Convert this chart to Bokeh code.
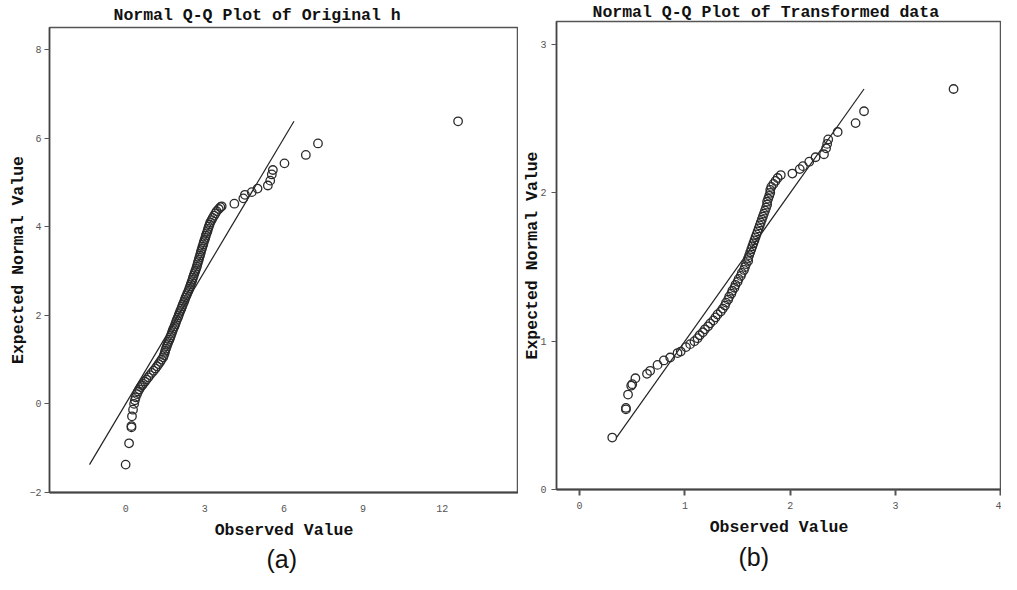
from bokeh.plotting import figure
from bokeh.models import Range1d, FixedTicker, Title
from bokeh.layouts import row, column
from bokeh.embed import file_html
from bokeh.resources import INLINE

# ---------------- data ----------------
a_title = "Normal Q-Q Plot of Original h"
b_title = "Normal Q-Q Plot of Transformed data"
x_label = "Observed Value"
y_label = "Expected Normal Value"
a_caption = "(a)"
b_caption = "(b)"

a_observed = [0.00, 0.13, 0.22, 0.22, 0.24, 0.28, 0.32, 0.35, 0.38, 0.43,
              0.47, 0.52, 0.57, 0.62,
              0.66, 0.73, 0.79, 0.86, 0.92, 0.99, 1.06, 1.13, 1.19, 1.25,
              1.31, 1.36, 1.42, 1.45, 1.48, 1.50, 1.53, 1.56, 1.59, 1.62,
              1.66, 1.69, 1.72, 1.75, 1.78, 1.81, 1.85, 1.88, 1.91, 1.94,
              1.98, 2.01, 2.04, 2.07, 2.11, 2.14, 2.17, 2.21, 2.24, 2.27,
              2.31, 2.34, 2.38, 2.41, 2.44, 2.47, 2.50, 2.53, 2.55, 2.58,
              2.61, 2.64, 2.67, 2.70, 2.72, 2.74, 2.77, 2.79, 2.82, 2.84,
              2.86, 2.89, 2.91, 2.94, 2.96, 2.99, 3.02, 3.04, 3.07, 3.10,
              3.12, 3.15, 3.18, 3.21, 3.26, 3.30, 3.35, 3.40, 3.45, 3.53,
              3.59, 3.64,
              4.12, 4.46, 4.52, 4.78, 5.00, 5.39, 5.48, 5.54, 5.58, 6.02,
              6.83, 7.29, 12.60]
a_expected = [-1.37, -0.89, -0.53, -0.50, -0.28, -0.13, 0.00, 0.08, 0.15, 0.22,
              0.28, 0.33, 0.38, 0.42,
              0.45, 0.50, 0.55, 0.60, 0.65, 0.70, 0.75, 0.80, 0.85, 0.90,
              0.95, 1.00, 1.05, 1.10, 1.15, 1.20, 1.25, 1.30, 1.35, 1.40,
              1.45, 1.50, 1.55, 1.60, 1.65, 1.70, 1.75, 1.80, 1.85, 1.90,
              1.95, 2.00, 2.05, 2.10, 2.15, 2.20, 2.25, 2.30, 2.35, 2.40,
              2.45, 2.50, 2.55, 2.60, 2.65, 2.70, 2.75, 2.80, 2.85, 2.90,
              2.95, 3.00, 3.05, 3.10, 3.15, 3.20, 3.25, 3.30, 3.35, 3.40,
              3.45, 3.50, 3.55, 3.60, 3.65, 3.70, 3.75, 3.80, 3.85, 3.90,
              3.95, 4.00, 4.05, 4.10, 4.15, 4.20, 4.25, 4.30, 4.35, 4.40,
              4.44, 4.46,
              4.52, 4.64, 4.72, 4.78, 4.86, 4.93, 5.04, 5.18, 5.28, 5.43,
              5.62, 5.88, 6.38]
a_ref_line = [-1.37, 6.38]

b_observed = [0.31, 0.44, 0.44, 0.46, 0.49, 0.50, 0.53, 0.64, 0.67, 0.74,
              0.80, 0.86, 0.93, 0.96, 1.01,
              1.05, 1.09, 1.12, 1.14, 1.17, 1.19, 1.22, 1.24, 1.27, 1.29,
              1.31, 1.34, 1.36, 1.38, 1.39, 1.41, 1.42, 1.44, 1.45, 1.47,
              1.48, 1.50, 1.51, 1.53, 1.54, 1.56, 1.57, 1.58, 1.60, 1.60,
              1.61, 1.62, 1.63, 1.64, 1.65, 1.66, 1.67, 1.68, 1.69, 1.70,
              1.71, 1.72, 1.73, 1.74, 1.75, 1.76, 1.77, 1.78, 1.78, 1.79,
              1.80, 1.81, 1.81, 1.82, 1.84, 1.86, 1.88, 1.91,
              2.02, 2.09, 2.12, 2.18, 2.24, 2.32, 2.34, 2.35, 2.36, 2.45,
              2.62, 2.70, 3.55]
b_expected = [0.35, 0.54, 0.55, 0.64, 0.70, 0.71, 0.75, 0.78, 0.80, 0.84,
              0.87, 0.89, 0.92, 0.93, 0.96,
              0.98, 1.00, 1.02, 1.04, 1.06, 1.08, 1.10, 1.12, 1.14, 1.16,
              1.18, 1.20, 1.22, 1.24, 1.26, 1.28, 1.30, 1.32, 1.34, 1.36,
              1.38, 1.40, 1.42, 1.44, 1.46, 1.48, 1.50, 1.52, 1.54, 1.56,
              1.58, 1.60, 1.62, 1.64, 1.66, 1.68, 1.70, 1.72, 1.74, 1.76,
              1.78, 1.80, 1.82, 1.84, 1.86, 1.88, 1.90, 1.92, 1.94, 1.96,
              1.98, 2.00, 2.02, 2.04, 2.06, 2.08, 2.10, 2.12,
              2.13, 2.16, 2.18, 2.21, 2.24, 2.26, 2.30, 2.33, 2.36, 2.41,
              2.47, 2.55, 2.70]
b_ref_line = [0.35, 2.70]

a_xticks = [0, 3, 6, 9, 12]
a_yticks = [-2, 0, 2, 4, 6, 8]
b_xticks = [0, 1, 2, 3, 4]
b_yticks = [0, 1, 2, 3]

MONO = "Liberation Mono"


def make_panel(title, obs, exp, ref, xticks, yticks, xr, yr, width, height, margin_left,
               title_offset, title_standoff, cap, cap_offset, cap_standoff,
               x_tick_out, ylab_standoff, ytick_standoff):
    p = figure(width=width, height=height, x_range=Range1d(*xr), y_range=Range1d(*yr),
               output_backend="svg", toolbar_location=None, title=title,
               min_border=0, margin=(0, 0, 0, margin_left))
    p.title.align = "left"
    p.title.offset = title_offset
    p.title.standoff = title_standoff
    p.title.text_font = MONO
    p.title.text_font_style = "bold"
    p.title.text_font_size = "16.5px"
    p.title.text_color = "#111111"

    p.grid.visible = False
    p.background_fill_color = "white"
    p.border_fill_color = "white"
    p.outline_line_color = "#555555"
    p.outline_line_width = 1.5

    p.xaxis.ticker = FixedTicker(ticks=xticks)
    p.yaxis.ticker = FixedTicker(ticks=yticks)
    for ax in (p.xaxis, p.yaxis):
        ax.axis_label_text_font = MONO
        ax.axis_label_text_font_style = "bold"
        ax.axis_label_text_font_size = "16.5px"
        ax.axis_label_text_color = "#111111"
        ax.major_label_text_font = MONO
        ax.major_label_text_font_size = "10px"
        ax.major_label_text_color = "#555555"
        ax.minor_tick_line_color = None
        ax.major_tick_in = 0
        ax.major_tick_line_color = "#555555"
        ax.axis_line_color = "#444444"
    p.xaxis.axis_label = x_label
    p.yaxis.axis_label = y_label
    p.xaxis.axis_line_width = 2
    p.yaxis.axis_line_width = 1.5
    p.yaxis.major_tick_out = 5
    p.yaxis.major_label_standoff = ytick_standoff
    p.yaxis.axis_label_standoff = ylab_standoff
    p.xaxis.major_tick_out = x_tick_out
    p.xaxis.major_tick_line_width = 2
    p.xaxis.major_label_standoff = 12 - x_tick_out
    p.xaxis.axis_label_standoff = 6

    p.line(ref, ref, line_color="#222222", line_width=1.2)
    p.scatter(obs, exp, marker="circle", size=8.5, fill_color=None,
              line_color="#2b2b2b", line_width=1.3)

    cap_t = Title(text=cap, align="left", offset=cap_offset, vertical_align="middle",
                  text_font="Liberation Sans", text_font_style="normal",
                  text_font_size="25px", text_color="#111111", standoff=cap_standoff)
    p.add_layout(cap_t, "below")
    return p


pa = make_panel(a_title, a_observed, a_expected, a_ref_line, a_xticks, a_yticks,
                (-2.886, 14.89), (-2.0, 8.497), 512, 574, 6,
                64, 6, a_caption, 217, 2, 0, -2, 3)
pb = make_panel(b_title, b_observed, b_expected, b_ref_line, b_xticks, b_yticks,
                (-0.219, 4.005), (0.0, 3.155), 481, 574, 2,
                36, 0, b_caption, 182, 5, 6, -5, 5)

layout = row(column(pa), column(pb))
open("out.html", "w").write(file_html(layout, INLINE))
